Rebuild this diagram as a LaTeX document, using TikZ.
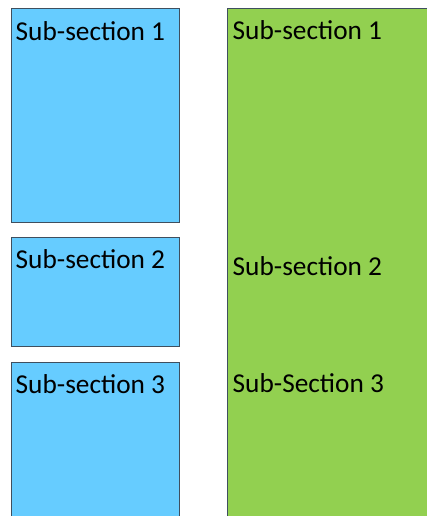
\documentclass[tikz,border=0pt]{standalone}
\usepackage{fontspec}
\setmainfont{Carlito}
\definecolor{blueFill}{HTML}{66CCFF}
\definecolor{greenFill}{HTML}{92D050}
\definecolor{edge}{HTML}{3F4F5F}
\begin{document}
\begin{tikzpicture}[x=1pt,y=1pt,
  bluebox/.style={draw=edge,fill=blueFill,line width=0.9pt},
  greenbox/.style={draw=edge,fill=greenFill,line width=0.9pt},
  lbl/.style={anchor=base west,inner sep=0pt,font=\fontsize{27.3}{30}\selectfont}]
\useasboundingbox (0,0) rectangle (427,516);
\begin{scope}
\clip (0,0) rectangle (427,516);
\path[bluebox] (11,294) rectangle (179,508) node[pos=0.5] (b1) {};
\path[bluebox] (11,170) rectangle (179,279) node[pos=0.5] (b2) {};
\path[bluebox] (11,-5) rectangle (179,154) node[pos=0.5] (b3) {};
\path[greenbox] (227,-5) rectangle (440,508) node[pos=0.5] (g) {};
\end{scope}
\node[lbl] (t1) at (15.5,475) {Sub-section 1};
\node[lbl] (t2) at (15.5,247) {Sub-section 2};
\node[lbl] (t3) at (15.5,122) {Sub-section 3};
\node[lbl] (u1) at (232.5,476.5) {Sub-section 1};
\node[lbl] (u2) at (232.5,240.5) {Sub-section 2};
\node[lbl] (u3) at (232.5,123.5) {Sub-Section 3};
\end{tikzpicture}
\end{document}
